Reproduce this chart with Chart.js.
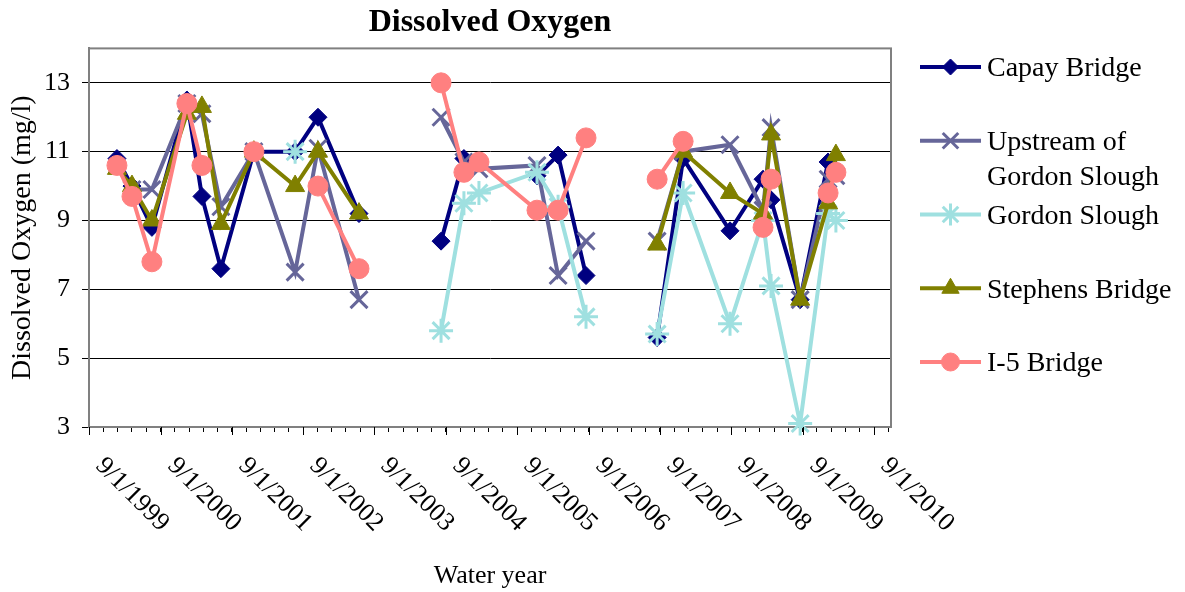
<!DOCTYPE html>
<html>
<head>
<meta charset="utf-8">
<script src="https://cdn.jsdelivr.net/npm/chart.js@4/dist/chart.umd.min.js"></script>
<style>
  body { margin: 0; background: #fff; }
</style>
</head>
<body>
<canvas id="doChart" width="1185" height="592"></canvas>
<script>
// Sampling dates shared by all stations.
// 2004-01-15 and 2007-02-15 are rows with no samples, which break the lines.
const sampleDates = [
  '2000-01-22', '2000-04-08', '2000-07-19', '2001-01-14', '2001-04-01', '2001-07-07',
  '2001-12-23', '2002-07-22', '2002-11-16', '2003-06-14',
  '2004-01-15',
  '2004-08-07', '2004-12-02', '2005-02-17', '2005-12-11', '2006-03-29', '2006-08-19',
  '2007-02-15',
  '2007-08-18', '2007-12-29', '2008-08-25', '2009-02-10', '2009-03-23', '2009-08-19',
  '2010-01-09', '2010-02-18'
];

// Dissolved oxygen (mg/l), null = no sample
const capayBridge = [10.8, 10.0, 8.8, 12.5, 9.7, 7.6, 11.0, 11.0, 12.0, 9.2,
  null,
  8.4, 10.8, null, 10.3, 10.9, 7.4,
  null,
  5.6, 10.8, 8.7, 10.2, 9.6, 6.7, 10.7, null];
const upstreamGordon = [null, 9.9, 9.9, 12.4, 12.1, 9.4, 11.0, 7.5, 11.1, 6.7,
  null,
  12.0, 10.7, 10.5, 10.6, 7.4, 8.4,
  null,
  8.4, 11.0, 11.2, 9.3, 11.7, 6.7, 10.2, 10.3];
const gordonSlough = [null, null, null, null, null, null, null, 11.0, null, null,
  null,
  5.8, 9.5, 9.8, 10.4, 9.4, 6.2,
  null,
  5.7, 9.8, 6.0, 9.0, 7.1, 3.1, 9.2, 9.0];
const stephensBridge = [10.5, 10.0, 9.0, 12.1, 12.3, 8.9, 11.0, 10.0, 11.0, 9.2,
  null,
  null, null, null, null, null, null,
  null,
  8.3, 11.0, 9.8, 9.2, 11.5, 6.7, 9.5, 10.9];
const i5Bridge = [10.6, 9.7, 7.8, 12.4, 10.6, null, 11.0, null, 10.0, 7.6,
  null,
  13.0, 10.4, 10.7, 9.3, 9.3, 11.4,
  null,
  10.2, 11.3, null, 8.8, 10.2, null, 9.8, 10.4];

const seriesLabels = [['Capay Bridge'], ['Upstream of', 'Gordon Slough'], ['Gordon Slough'],
  ['Stephens Bridge'], ['I-5 Bridge']];
const yTickValues = [3, 5, 7, 9, 11, 13];
const axisYears = [1999, 2000, 2001, 2002, 2003, 2004, 2005, 2006, 2007, 2008, 2009, 2010];
const axisStart = '1999-09-01';
const axisEnd = '2010-11-27';

const FONT = "'Liberation Serif', 'Times New Roman', serif";

function dayNum(s) {
  const p = s.split('-').map(Number);
  return Date.UTC(p[0], p[1] - 1, p[2]) / 86400000;
}
// x is measured in years since the start of the axis
function toX(s) {
  return (dayNum(s) - dayNum(axisStart)) / 365.25;
}

const majorTicks = axisYears.map(y => toX(y + '-09-01'));
const allTicks = [];
majorTicks.forEach((m, i) => {
  const next = i < majorTicks.length - 1 ? majorTicks[i + 1] : m + 1;
  for (let k = 0; k < 5; k++) {
    const v = m + (next - m) * k / 5;
    if (v <= toX(axisEnd)) allTicks.push(v);
  }
});

function makeSet(values, color, style, radius, lineMarker, order) {
  return {
    data: sampleDates.map((d, i) => ({ x: toX(d), y: values[i] })),
    borderColor: color,
    backgroundColor: color,
    borderWidth: 4,
    pointStyle: style,
    pointRadius: radius,
    pointHoverRadius: radius,
    pointBackgroundColor: color,
    pointBorderColor: color,
    pointBorderWidth: lineMarker ? 3 : 1,
    spanGaps: false,
    tension: 0,
    clip: false,
    order: order
  };
}

const datasets = [
  makeSet(capayBridge, '#000080', 'rectRot', 9, false, 5),
  makeSet(upstreamGordon, '#666699', 'crossRot', 12, true, 4),
  makeSet(gordonSlough, '#9fe0e0', 'star', 12, true, 3),
  makeSet(stephensBridge, '#808000', 'triangle', 11, false, 2),
  makeSet(i5Bridge, '#ff8080', 'circle', 10, false, 1)
];

const decor = {
  id: 'decor',
  beforeDatasetsDraw(chart) {
    const { ctx, chartArea: a } = chart;
    ctx.save();
    ctx.strokeStyle = '#808080';
    ctx.lineWidth = 2;
    ctx.strokeRect(a.left, a.top, a.right - a.left, a.bottom - a.top);
    ctx.restore();
  },
  afterDraw(chart) {
    const { ctx, chartArea: a } = chart;
    const xs = chart.scales.x;
    ctx.save();
    // longer marks for the yearly ticks, and the rotated date labels
    ctx.strokeStyle = '#000';
    ctx.lineWidth = 1;
    ctx.fillStyle = '#000';
    ctx.font = '26px ' + FONT;
    ctx.textAlign = 'left';
    ctx.textBaseline = 'middle';
    majorTicks.forEach((v, i) => {
      const px = Math.round(xs.getPixelForValue(v)) + 0.5;
      ctx.beginPath();
      ctx.moveTo(px, a.bottom);
      ctx.lineTo(px, a.bottom + 8);
      ctx.stroke();
      ctx.save();
      ctx.translate(px + 10, a.bottom + 35);
      ctx.rotate(Math.PI / 4);
      ctx.fillText('9/1/' + axisYears[i], 0, 0);
      ctx.restore();
    });

    // legend
    const helpers = Chart.helpers;
    ctx.font = '28px ' + FONT;
    chart.data.datasets.forEach((ds, i) => {
      const y = 67 + i * 73.75;
      ctx.strokeStyle = ds.borderColor;
      ctx.lineWidth = 4;
      ctx.beginPath();
      ctx.moveTo(920, y);
      ctx.lineTo(981, y);
      ctx.stroke();
      ctx.fillStyle = ds.borderColor;
      ctx.lineWidth = ds.pointBorderWidth;
      helpers.drawPoint(ctx, { pointStyle: ds.pointStyle, radius: ds.pointRadius - 1, borderWidth: ds.pointBorderWidth, rotation: 0 }, 950.5, y);
      ctx.fillStyle = '#000';
      seriesLabels[i].forEach((t, j) => ctx.fillText(t, 987, y + 2 + j * 35));
    });
    ctx.restore();
  }
};

new Chart(document.getElementById('doChart'), {
  type: 'line',
  data: { datasets: datasets },
  options: {
    responsive: false,
    animation: false,
    events: [],
    layout: { padding: { left: 0, right: 294, top: 0, bottom: 0 } },
    plugins: {
      legend: { display: false },
      tooltip: { enabled: false },
      title: {
        display: true,
        text: 'Dissolved Oxygen',
        fullSize: false,
        color: '#000',
        font: { family: FONT, size: 32, weight: 'bold' },
        padding: { top: 4, bottom: 6 }
      }
    },
    scales: {
      x: {
        type: 'linear',
        min: 0,
        max: toX(axisEnd),
        afterBuildTicks: s => { s.ticks = allTicks.map(v => ({ value: v })); },
        afterFit: s => { s.height = 165; },
        ticks: { display: false },
        grid: { drawOnChartArea: false, drawTicks: true, tickLength: 5, tickColor: '#000' },
        border: { color: '#808080', width: 2 },
        title: {
          display: true,
          text: 'Water year',
          color: '#000',
          font: { family: FONT, size: 26 },
          padding: { top: 0, bottom: 0 }
        }
      },
      y: {
        min: 3,
        max: 14,
        afterBuildTicks: s => { s.ticks = yTickValues.map(v => ({ value: v })); },
        afterFit: s => { s.width = 89; },
        ticks: {
          color: '#000',
          font: { family: FONT, size: 26 },
          padding: 12
        },
        grid: {
          color: c => (c.tick && c.tick.value === 3) ? 'rgba(0,0,0,0)' : '#000',
          tickColor: '#000',
          tickLength: 7,
          lineWidth: 1
        },
        border: { color: '#808080', width: 2 },
        title: {
          display: true,
          text: 'Dissolved Oxygen (mg/l)',
          color: '#000',
          font: { family: FONT, size: 28 },
          padding: { top: 6, bottom: 0 }
        }
      }
    }
  },
  plugins: [decor]
});
</script>
</body>
</html>
